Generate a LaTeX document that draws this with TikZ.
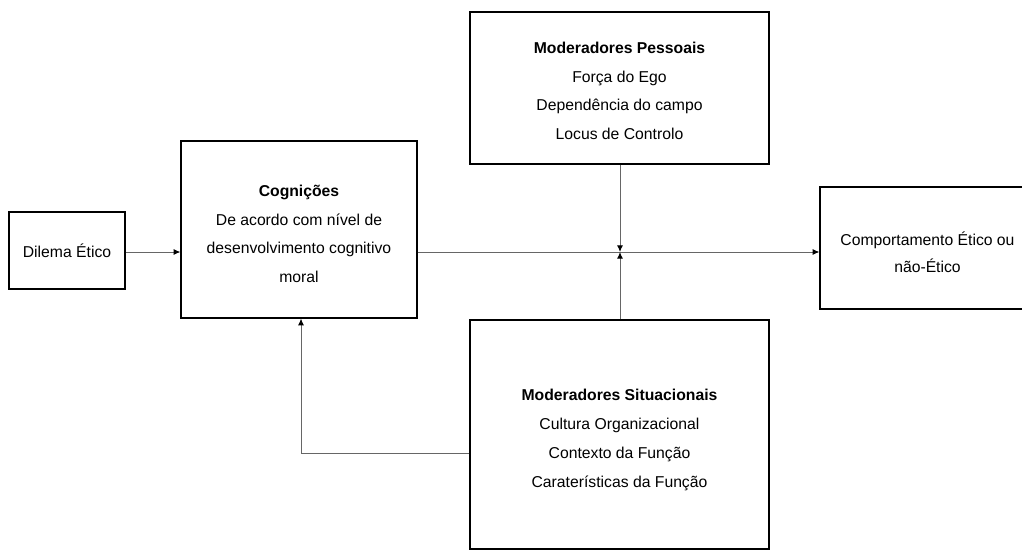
\documentclass[tikz,border=0pt]{standalone}
\usepackage{fontspec}
\setmainfont{Liberation Sans}
\usetikzlibrary{arrows.meta}
% invisible strut that lowers the first line of a text block
\newcommand{\topstrut}[1]{\rule{0pt}{#1}}
\begin{document}
\begin{tikzpicture}[x=0.75pt,y=-0.75pt,
  box/.style={draw=black,line width=0.9pt,align=center,inner sep=0pt,
    font=\fontsize{11.8}{21.6}\selectfont},
  link/.style={draw=black!60,line width=0.75pt,
    -{Latex[length=5pt,width=4.5pt,color=black]}}]
\useasboundingbox (0,0) rectangle (1022,550);
\fill[white] (0,0) rectangle (1022,550);

% boxes
\node[box,minimum width=0.75pt*116,minimum height=0.75pt*77] (dilema) at (67,250.5) {Dilema Ético};
\node[box,minimum width=0.75pt*236,minimum height=0.75pt*177] (cog) at (299,229.5)
  {\topstrut{15pt}\textbf{Cognições}\\De acordo com nível de\\desenvolvimento cognitivo\\moral};
\node[box,minimum width=0.75pt*299,minimum height=0.75pt*152] (pes) at (619.5,88)
  {\topstrut{13pt}\textbf{Moderadores Pessoais}\\Força do Ego\\Dependência do campo\\Locus de Controlo};
\node[box,minimum width=0.75pt*299,minimum height=0.75pt*229] (sit) at (619.5,434.5)
  {\topstrut{17pt}\textbf{Moderadores Situacionais}\\Cultura Organizacional\\Contexto da Função\\Caraterísticas da Função};
\node[box,minimum width=0.75pt*215,minimum height=0.75pt*122,
  font=\fontsize{11.8}{20.2}\selectfont] (comp) at (927.5,248)
  {\topstrut{16pt}Comportamento Ético ou\\não-Ético};

% junction on the main path
\coordinate (j) at (620,252);
\coordinate (fb) at (301,453);

% connectors
\draw[link] (dilema.east |- 0,252) -- (cog.west |- 0,252);
\draw[link] (cog.east |- 0,252) -- (comp.west |- 0,252);
\draw[link] (pes.south -| j) -- (j);
\draw[link] (sit.north -| j) -- (j);
\draw[link] (sit.west |- fb) -- (fb) -- (cog.south -| fb);
\end{tikzpicture}
\end{document}
